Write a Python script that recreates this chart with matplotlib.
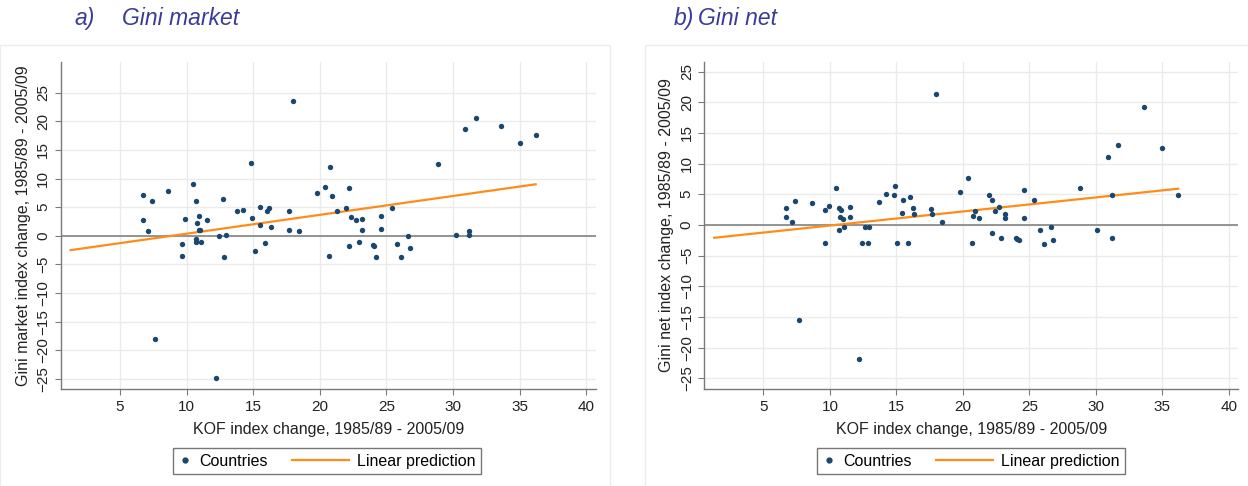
import matplotlib
matplotlib.use("Agg")
import matplotlib.pyplot as plt
from matplotlib.lines import Line2D
from matplotlib.legend_handler import HandlerLine2D

plt.rcParams['font.family'] = ['Liberation Sans', 'DejaVu Sans']

# panel a) Gini market
mkt_x = [6.7, 6.75, 7.4, 7.1, 8.6, 10.45, 10.7, 9.9, 10.9, 10.8, 11.0, 10.9, 11.5,
         10.7, 10.7, 11.05, 9.65, 9.65, 12.7, 12.45, 12.95, 12.8, 13.75, 14.2, 14.8,
         14.9, 15.5, 16.2, 16.0, 15.5, 16.3, 15.1, 15.9, 18.0, 17.65, 17.7, 18.4, 19.8,
         20.8, 20.4, 20.9, 22.2, 21.3, 22.0, 22.35, 22.7, 23.2, 23.2, 24.6, 24.6, 25.4,
         26.6, 20.7, 22.2, 22.95, 24.0, 24.1, 24.25, 25.8, 26.1, 26.8, 28.9, 30.2, 31.2,
         31.2, 30.9, 31.7, 33.6, 35.0, 36.2, 7.65, 12.2]
mkt_y = [7.1, 2.7, 6.1, 0.8, 7.9, 9.1, 6.0, 3.0, 3.4, 2.3, 1.1, 1.0, 2.8,
         -0.6, -1.0, -1.1, -1.45, -3.6, 6.5, 0.0, 0.1, -3.7, 4.4, 4.5, 12.8,
         3.1, 5.0, 4.8, 4.4, 1.9, 1.5, -2.7, -1.2, 23.5, 4.4, 1.1, 0.8, 7.5,
         12.0, 8.6, 6.9, 8.3, 4.4, 4.8, 3.3, 2.7, 3.0, 1.1, 3.5, 1.2, 4.8,
         -0.1, -3.6, -1.85, -1.1, -1.6, -1.85, -3.7, -1.45, -3.7, -2.1, 12.6, 0.1, 0.9,
         0.2, 18.7, 20.6, 19.1, 16.2, 17.6, -18.1, -24.8]
mkt_fit_x = [1.3, 36.2]
mkt_fit_y = [-2.5, 9.0]

# panel b) Gini net
net_x = [6.67, 6.67, 7.12, 7.37, 8.62, 9.65, 9.92, 9.65, 10.45, 10.65, 10.8, 10.78,
         10.95, 11.03, 10.7, 11.5, 11.5, 12.45, 12.83, 12.65, 12.93, 13.72, 14.22,
         14.82, 14.93, 15.47, 15.45, 16.0, 16.25, 16.35, 15.07, 15.9, 17.98, 17.63,
         17.7, 18.4, 19.8, 20.4, 20.7, 20.8, 20.9, 21.25, 21.95, 22.2, 22.4, 22.7,
         22.2, 22.9, 23.2, 23.2, 24.0, 24.1, 24.25, 24.6, 24.6, 25.35, 25.8, 26.1,
         26.6, 26.8, 28.85, 30.1, 30.9, 31.2, 31.2, 31.65, 33.6, 35.0, 36.15, 7.7, 12.17]
net_y = [2.7, 1.3, 0.4, 3.9, 3.5, 2.5, 3.1, -3.0, 6.0, 2.7, 2.4, 1.3,
         1.0, -0.4, -0.9, 2.9, 1.3, -3.0, -3.0, -0.3, -0.3, 3.75, 5.06,
         4.84, 6.4, 4.1, 2.0, 4.57, 2.83, 1.8, -2.9, -3.0, 21.4, 2.55,
         1.8, 0.5, 5.4, 7.6, -3.0, 1.5, 2.3, 1.1, 4.95, 4.1, 2.3, 2.9,
         -1.25, -2.2, 1.8, 1.2, -2.1, -2.3, -2.5, 5.76, 1.1, 4.0, -0.8, -3.1,
         -0.4, -2.5, 6.0, -0.9, 11.0, 4.95, -2.2, 13.1, 19.25, 12.5, 4.8, -15.5, -21.9]
net_fit_x = [1.3, 36.2]
net_fit_y = [-2.1, 5.9]

xticks = [5, 10, 15, 20, 25, 30, 35, 40]
yticks = [-25, -20, -15, -10, -5, 0, 5, 10, 15, 20, 25]

navy = '#1a476f'
orange = '#ff8c1a'
title_col = '#3b3b9b'


class LongLine(HandlerLine2D):
    # line handle that reaches back into the column gap, so the dot entry can stay short
    def create_artists(self, legend, orig_handle, xdescent, ydescent, width, height, fontsize, trans):
        arts = super().create_artists(legend, orig_handle, xdescent, ydescent, width, height, fontsize, trans)
        for a in arts:
            yv = a.get_ydata()[0]
            a.set_data([-xdescent - 32, width - xdescent], [yv, yv])
        return arts


fig = plt.figure(figsize=(12.48, 4.86), dpi=100)

# faint panel frames
for x0, w in [(0.0, 0.489), (0.517, 0.49)]:
    fig.patches.append(plt.Rectangle((x0, -0.01), w, 0.917, transform=fig.transFigure,
                                     fill=False, edgecolor='#ececec', lw=1.0))

panels = [
    ([0.0486, 0.199, 0.4287, 0.674], mkt_x, mkt_y, mkt_fit_x, mkt_fit_y,
     (-26.8, 30.4), "Gini market index change, 1985/89 - 2005/09", 0.262, ("a)", 0.060, "Gini market", 0.098)),
    ([0.5643, 0.199, 0.4277, 0.674], net_x, net_y, net_fit_x, net_fit_y,
     (-26.8, 26.6), "Gini net index change, 1985/89 - 2005/09", 0.778, ("b)", 0.540, "Gini net", 0.559)),
]

for rect, xs, ys, fx, fy, ylim, ylab, legx, ttl in panels:
    ax = fig.add_axes(rect)
    ax.set_xlim(0.55, 40.7)
    ax.set_ylim(*ylim)
    ax.set_xticks(xticks)
    ax.set_yticks(yticks)
    ax.grid(True, color='#ebebeb', lw=1.0)
    ax.set_axisbelow(True)
    ax.axhline(0, color='#8c8c8c', lw=1.3, zorder=1)
    ax.scatter(xs, ys, s=15, color=navy, zorder=3, linewidths=0)
    ax.plot(fx, fy, color=orange, lw=1.6, zorder=2)
    for s in ['top', 'right']:
        ax.spines[s].set_visible(False)
    for s in ['left', 'bottom']:
        ax.spines[s].set_color('#7a7a7a')
        ax.spines[s].set_linewidth(1.0)
    ax.tick_params(axis='both', colors='#7a7a7a', labelcolor='#222222', labelsize=11, length=4)
    for lab in ax.get_yticklabels():
        lab.set_rotation(90)
        lab.set_va('center')
    ax.set_xlabel("KOF index change, 1985/89 - 2005/09", fontsize=11.5, color='#222222', labelpad=6)
    ax.set_ylabel(ylab, fontsize=11.5, color='#222222', labelpad=4)

    dot = Line2D([], [], marker='o', ls='none', color=navy, markersize=3.5)
    fitline = Line2D([], [], color=orange, lw=1.6)
    fig.legend([dot, fitline], ["Countries", "Linear prediction"], loc='center',
               bbox_to_anchor=(legx, 0.051), ncol=2, fontsize=11.5, frameon=True,
               fancybox=False, edgecolor='#555555', handlelength=0.8,
               columnspacing=4.3, borderpad=0.35, handletextpad=0.5,
               handler_map={fitline: LongLine()})

    fig.text(ttl[1], 0.962, ttl[0], fontsize=16.5, style='italic', color=title_col, va='center')
    fig.text(ttl[3], 0.962, ttl[2], fontsize=16.5, style='italic', color=title_col, va='center')

fig.savefig("out.png", dpi=100)
